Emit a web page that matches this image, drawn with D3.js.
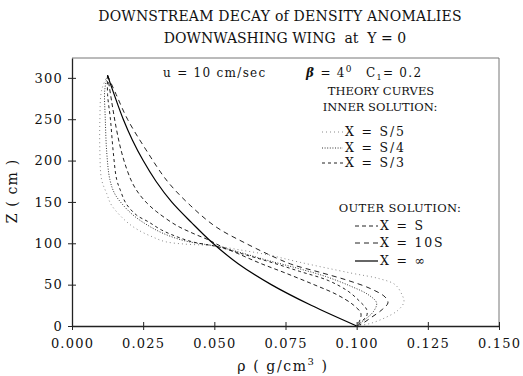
<!DOCTYPE html>
<html>
<head>
<meta charset="utf-8">
<title>Downstream decay of density anomalies</title>
<style>
    body { margin: 0; padding: 0; background: #fff; }
    svg text { font-family: "DejaVu Serif", serif; fill: #111; }
    .tick text { font-size: 13px; letter-spacing: 1.2px; }
    .tick line { stroke: #222; }
    .domain { stroke: #222; stroke-width: 1.3; }
</style>
</head>
<body>
<svg id="chart" width="523" height="376"></svg>

<script src="https://cdnjs.cloudflare.com/ajax/libs/d3/7.8.5/d3.min.js"></script>
<script>

// axis ticks
var xTicks = [0, 0.025, 0.05, 0.075, 0.1, 0.125, 0.15];
var yTicks = [0, 50, 100, 150, 200, 250, 300];

// [rho (g/cm3), Z (cm)], one list per theory curve
var innerS5 = [[.0125,303],[.0104,285],[.0098,250],[.0098,210],[.0104,177],[.0122,160],[.0139,146],
    [.0192,126],[.0233,116],[.0281,108],[.0327,102],[.0397,99],[.0456,98],[.0500,97],[.0590,92],
    [.0689,86],[.0801,77],[.0980,64],[.1082,57],[.1135,50],[.1159,38],[.1166,29],[.1145,19],
    [.1100,10],[.1047,3],[.1000,0]];
var innerS4 = [[.0125,303],[.0115,285],[.0117,250],[.0122,210],[.0133,177],[.0150,160],[.0175,148],
    [.0215,134],[.0265,122],[.0320,112],[.0385,104],[.0440,100],[.0500,97],[.0580,90],[.0680,80],
    [.0790,70],[.0890,60],[.0980,48],[.1040,38],[.1070,28],[.1060,18],[.1030,8],[.1000,0]];
var innerS3 = [[.0125,303],[.0125,280],[.0135,250],[.0145,210],[.0157,177],[.0170,164],[.0190,148],
    [.0227,134],[.0268,126],[.0315,116],[.0368,108],[.0420,102],[.0479,98],[.0510,96],[.0590,88],
    [.0690,78],[.0800,66],[.0900,55],[.0970,42],[.1010,30],[.1035,20],[.1035,12],[.1015,5],[.1000,0]];
var outerS = [[.0125,303],[.0140,270],[.0155,240],[.0172,213],[.0192,190],[.0212,173],[.0235,160],
    [.0265,148],[.0298,138],[.0365,122],[.0425,112],[.0480,104],[.0520,97],[.0580,88],[.0660,76],
    [.0750,64],[.0850,50],[.0930,38],[.0990,25],[.1015,15],[.1010,6],[.1000,0]];
var outer10S = [[.0125,303],[.0155,280],[.0195,250],[.0260,213],[.0335,175],[.0415,146],[.0505,120],
    [.0610,100],[.0719,82],[.0776,74],[.0870,65],[.0970,55],[.1050,45],[.1100,35],[.1110,28],
    [.1090,20],[.1050,10],[.1020,3],[.1000,0]];
var outerInf = [[.0125,303],[.0148,280],[.0180,250],[.0212,225],[.0250,200],[.0295,175],[.0350,150],
    [.0420,125],[.0495,100],[.0585,75],[.0700,50],[.0840,25],[.1000,0]];

var series = [
    { key: "S/5", data: innerS5, color: "#8a8a8a", dash: "1,3", width: 1 },
    { key: "S/4", data: innerS4, color: "#333", dash: "1,1.6", width: 1 },
    { key: "S/3", data: innerS3, color: "#222", dash: "3,3", width: 1 },
    { key: "S", data: outerS, color: "#222", dash: "4,3", width: 1 },
    { key: "10S", data: outer10S, color: "#222", dash: "5,4", width: 1 },
    { key: "\u221E", data: outerInf, color: "#000", dash: null, width: 1.2 }
];

var svg = d3.select("#chart");
var plotLeft = 72, plotRight = 499, plotTop = 58, plotBottom = 326;

var x = d3.scaleLinear().domain([0, 0.15]).range([plotLeft, plotRight]);
var y = d3.scaleLinear().domain([0, 324]).range([plotBottom, plotTop]);

// titles
svg.append("text").attr("x", 280).attr("y", 21).attr("text-anchor", "middle")
    .style("font-size", "14px").style("letter-spacing", "0.2px")
    .text("DOWNSTREAM DECAY of DENSITY ANOMALIES");
svg.append("text").attr("x", 285).attr("y", 43).attr("text-anchor", "middle")
    .style("font-size", "14px").attr("xml:space", "preserve")
    .text("DOWNWASHING WING  at  Y = 0");

// frame (top / right)
svg.append("path")
    .attr("d", "M" + plotLeft + "," + plotTop + "H" + plotRight + "V" + plotBottom)
    .attr("fill", "none").attr("stroke", "#777").attr("stroke-width", 1);

// axes with ticks crossing the line
var xAxis = svg.append("g").attr("transform", "translate(0," + plotBottom + ")")
    .call(d3.axisBottom(x).tickValues(xTicks).tickFormat(d3.format(".3f")).tickSize(4).tickSizeOuter(0));
xAxis.selectAll(".tick line").attr("y1", -4);
xAxis.selectAll(".tick text").attr("y", 22).attr("dy", 0);

var yAxis = svg.append("g").attr("transform", "translate(" + plotLeft + ",0)")
    .call(d3.axisLeft(y).tickValues(yTicks).tickSize(4).tickSizeOuter(0));
yAxis.selectAll(".tick line").attr("x1", 4);
yAxis.selectAll(".tick text").attr("x", -9);

// axis titles
var xt = svg.append("text").attr("x", 283).attr("y", 371).attr("text-anchor", "middle")
    .style("font-size", "14px").style("letter-spacing", "1.6px").attr("xml:space", "preserve");
xt.append("tspan").text("\u03C1 ( g/cm");
xt.append("tspan").attr("dy", -6).style("font-size", "10px").text("3");
xt.append("tspan").attr("dy", 6).text(" )");

svg.append("text").attr("transform", "translate(17,191) rotate(-90)")
    .attr("text-anchor", "middle").style("font-size", "14px").style("letter-spacing", "1.2px")
    .text("Z ( cm )");

// curves
var line = d3.line()
    .x(function(d) { return x(d[0]); })
    .y(function(d) { return y(d[1]); })
    .curve(d3.curveCatmullRom.alpha(0.5));

svg.append("g").selectAll("path")
    .data(series)
    .enter()
    .append("path")
    .attr("d", function(d) { return line(d.data); })
    .attr("fill", "none")
    .attr("stroke", function(d) { return d.color; })
    .attr("stroke-width", function(d) { return d.width; })
    .attr("stroke-dasharray", function(d) { return d.dash; });

// annotation
var note = svg.append("text").attr("y", 77).style("font-size", "12px")
    .style("letter-spacing", "1.3px").attr("xml:space", "preserve");
note.append("tspan").attr("x", 163).text("u = 10 cm/sec");
note.append("tspan").attr("x", 306).style("font-style", "italic").style("font-weight", "bold").text("\u03B2");
note.append("tspan").text(" = 4");
note.append("tspan").attr("dy", -5).style("font-size", "9px").text("0");
note.append("tspan").attr("x", 366).attr("dy", 5).text("C");
note.append("tspan").attr("dy", 3).style("font-size", "8px").text("1");
note.append("tspan").attr("dy", -3).text("= 0.2");

// legend
svg.append("text").attr("x", 381).attr("y", 95).attr("text-anchor", "middle")
    .style("font-size", "11.5px").text("THEORY CURVES");
svg.append("text").attr("x", 380).attr("y", 111).attr("text-anchor", "middle")
    .style("font-size", "11.5px").text("INNER SOLUTION:");
svg.append("text").attr("x", 400).attr("y", 212).attr("text-anchor", "middle")
    .style("font-size", "11.5px").style("letter-spacing", "0.4px").text("OUTER SOLUTION:");

var legendRows = [
    { s: series[0], y: 136, x0: 322, x1: 343 },
    { s: series[1], y: 152, x0: 322, x1: 343 },
    { s: series[2], y: 167, x0: 322, x1: 343 },
    { s: series[3], y: 230, x0: 355, x1: 378 },
    { s: series[4], y: 247, x0: 355, x1: 378 },
    { s: series[5], y: 265, x0: 355, x1: 378 }
];

var rows = svg.append("g").selectAll("g").data(legendRows).enter().append("g");
rows.append("line")
    .attr("x1", function(d) { return d.x0; })
    .attr("x2", function(d) { return d.x1; })
    .attr("y1", function(d) { return d.y - 4; })
    .attr("y2", function(d) { return d.y - 4; })
    .attr("stroke", function(d) { return d.s.color; })
    .attr("stroke-width", function(d) { return d.s.width; })
    .attr("stroke-dasharray", function(d) { return d.s.dash; });
rows.append("text")
    .attr("x", function(d) { return d.x1 + 2; })
    .attr("y", function(d) { return d.y; })
    .attr("xml:space", "preserve")
    .style("font-size", "12.5px")
    .style("letter-spacing", "1.8px")
    .text(function(d) { return d.s.key === "10S" ? "X = 10S" : "X = " + d.s.key; });

</script>
</body>
</html>
